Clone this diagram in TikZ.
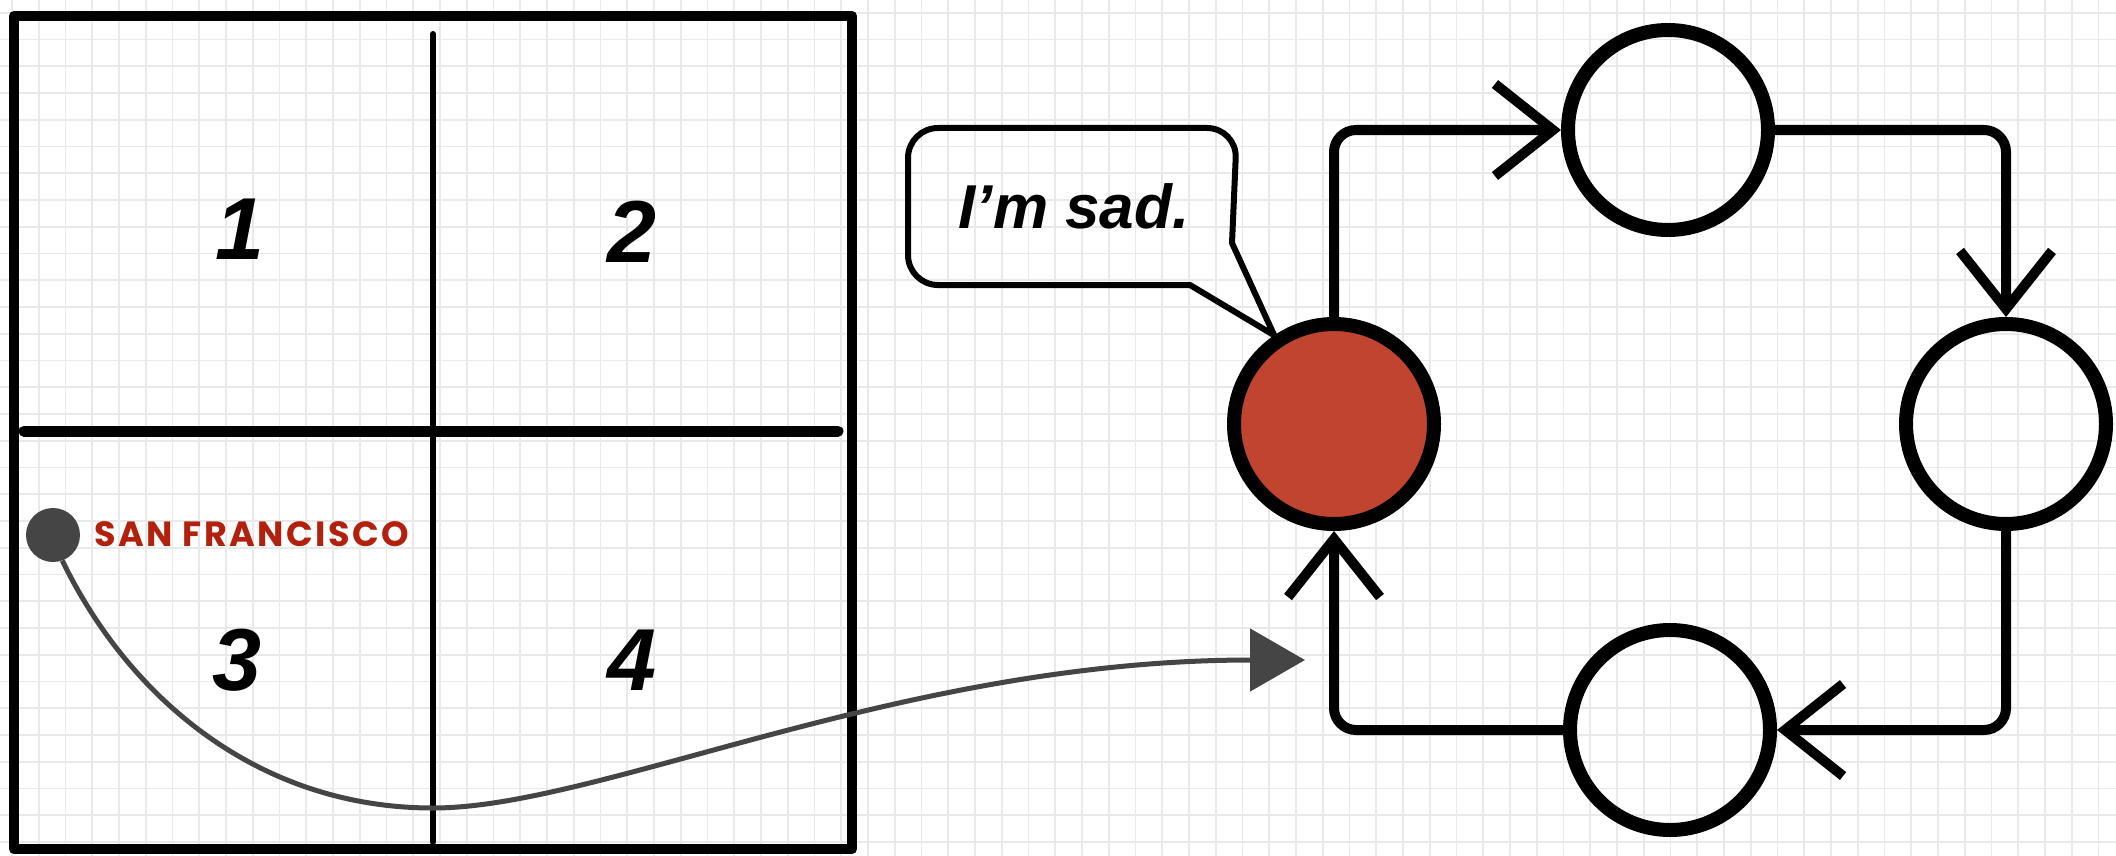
\documentclass[tikz,border=0pt]{standalone}
\usepackage{fontspec}
\usetikzlibrary{arrows.meta}
\newfontfamily\handfont{Liberation Sans}
\newfontfamily\labfont[LetterSpace=7]{Poppins}
\definecolor{gridc}{HTML}{E9E9E9}
\definecolor{sfred}{HTML}{B3200B}
\definecolor{dotgray}{HTML}{454545}
\definecolor{redfill}{HTML}{C1442F}
\begin{document}
\begin{tikzpicture}[x=1pt,y=-1pt,
  gridln/.style={gridc,line width=1.8pt},
  boxln/.style={line width=10pt, line join=round},
  divln/.style={line width=6pt, line cap=round},
  hdivln/.style={line width=11pt, line cap=round},
  numtxt/.style={font=\handfont\bfseries\itshape\fontsize{88}{88}\selectfont, inner sep=0pt},
  state/.style={circle, draw=black, line width=14pt, minimum size=200pt, inner sep=0pt},
  flow/.style={line width=10pt, rounded corners=22pt, -{Straight Barb[length=58pt,width=92pt]}},
  sfcurve/.style={draw=dotgray, line width=5pt, -{Triangle[length=55pt,width=62pt]}},
  bub/.style={line width=6pt, line join=round},
]
\useasboundingbox (0,0) rectangle (2116,856);
\fill[white] (0,0) rectangle (2116,856);
% grid
\foreach \i in {0,...,79} \draw[gridln] ({12+26.75*\i},0) -- ++(0,856);
\foreach \j in {0,...,31} \draw[gridln] (0,{12.75+26.75*\j}) -- ++(2116,0);

% left square
\draw[boxln] (14,16) rectangle (852,849);
\draw[divln] (433,34) -- (433,842);
\draw[hdivln] (24,431) -- (838,431);
\node[numtxt] (n1) at (240,229) {1};
\node[numtxt] (n2) at (632,232) {2};
\node[numtxt] (n3) at (237,660) {3};
\node[numtxt] (n4) at (632,660) {4};

% San Francisco
\node[circle, fill=dotgray, minimum size=54pt, inner sep=0pt] (dot) at (53,535) {};
\node[anchor=west, inner sep=0pt, text=sfred, font=\labfont\bfseries\fontsize{35}{35}\selectfont] (sf) at (94,534) {SAN FRANCISCO};
\coordinate (sfend) at (1305,660);
\draw[sfcurve] (dot.-70) .. controls (130,700) and (260,808) .. (433,808)
   .. controls (600,808) and (900,660) .. (sfend);

% cycle
\node[state, fill=redfill] (red) at (1334,424) {};
\node[state] (top) at (1668,130) {};
\node[state] (rgt) at (2006,424) {};
\node[state] (bot) at (1670,730) {};
\draw[flow] (red.north) |- (top.west);
\draw[flow] (top.east) -| (rgt.north);
\draw[flow] (rgt.south) |- (bot.east);
\draw[flow] (bot.west) -| (red.south);

% speech bubble
\node[font=\handfont\bfseries\itshape\fontsize{62}{62}\selectfont, inner sep=0pt] (sad) at (1074,206) {I’m sad.};
\draw[bub] (1232,243) [rounded corners=30pt] -- (1237,128) -- (908,128) -- (908,285) [sharp corners] -- (1190,285) -- (red.124) -- cycle;
\end{tikzpicture}
\end{document}
